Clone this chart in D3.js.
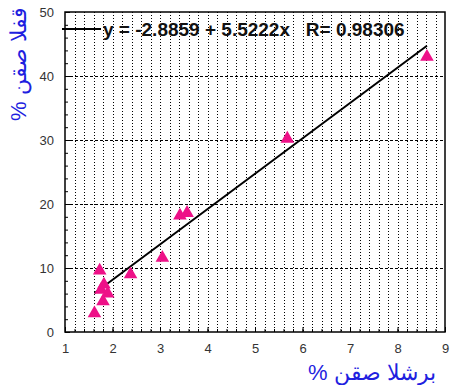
<!DOCTYPE html>
<html>
<head>
<meta charset="utf-8">
<script src="https://cdn.jsdelivr.net/npm/d3@7"></script>
<style>
  body { margin: 0; background: #fff; }
  text { font-family: "Liberation Sans", Arial, sans-serif; }
</style>
</head>
<body>
<div id="graph"></div>
<script>
// data
const xs = [1.62, 1.73, 1.76, 1.82, 1.90, 1.80, 2.38, 3.05, 3.42, 3.57, 5.68, 8.62];
const ys = [2.9, 9.6, 6.6, 7.4, 6.0, 4.8, 9.0, 11.6, 18.2, 18.6, 30.2, 43.0];
const xTicks = [1, 2, 3, 4, 5, 6, 7, 8, 9];
const yTicks = [0, 10, 20, 30, 40, 50];
const fit = { a: -2.8859, b: 5.5222, r: 0.98306 };
const xLabel = "نقص الشرب";
const yLabel = "نقص الفق";

// the original plot draws arabic letters left to right, so flip them
const flip = s => "% " + Array.from(s).reverse().join("");

const W = 450, H = 385;
const margin = { top: 12, right: 5, bottom: 53, left: 65 };

const x = d3.scaleLinear().domain([1, 9]).range([margin.left, W - margin.right]);
const y = d3.scaleLinear().domain([0, 50]).range([H - margin.bottom, margin.top]);

const svg = d3.select("#graph").append("svg")
    .attr("width", W)
    .attr("height", H);

// vertical dotted grid every 0.2
const minorX = d3.range(1.2, 9, 0.2);
svg.append("g").selectAll("line")
    .data(minorX)
    .enter().append("line")
    .attr("x1", d => Math.round(x(d)) + 0.5)
    .attr("x2", d => Math.round(x(d)) + 0.5)
    .attr("y1", y(50))
    .attr("y2", y(0))
    .attr("stroke", "#000")
    .attr("stroke-width", 1)
    .attr("stroke-dasharray", "1,2");

// horizontal dashed grid
svg.append("g").selectAll("line")
    .data(yTicks.slice(1, -1))
    .enter().append("line")
    .attr("x1", x(1))
    .attr("x2", x(9))
    .attr("y1", d => Math.round(y(d)) + 0.5)
    .attr("y2", d => Math.round(y(d)) + 0.5)
    .attr("stroke", "#000")
    .attr("stroke-width", 1)
    .attr("stroke-dasharray", "3,2");

// axes (ticks pointing inward)
const xAxis = svg.append("g")
    .attr("transform", "translate(0," + y(0) + ")")
    .call(d3.axisBottom(x).tickValues(xTicks).tickSize(-5).tickPadding(12).tickFormat(d3.format("d")));
const xMinor = svg.append("g")
    .attr("transform", "translate(0," + y(0) + ")")
    .call(d3.axisBottom(x).tickValues(minorX).tickSize(-3).tickFormat(""));
const yAxis = svg.append("g")
    .attr("transform", "translate(" + x(1) + ",0)")
    .call(d3.axisLeft(y).tickValues(yTicks).tickSize(-5).tickPadding(11));
const yMinor = svg.append("g")
    .attr("transform", "translate(" + x(1) + ",0)")
    .call(d3.axisLeft(y).tickValues(d3.range(2, 50, 2)).tickSize(-3).tickFormat(""));

[xAxis, xMinor, yAxis, yMinor].forEach(g => {
    g.select(".domain").remove();
    g.selectAll("line").attr("stroke", "#000");
    g.selectAll("text").attr("font-size", 13).attr("fill", "#333")
        .attr("font-family", "Liberation Sans, Arial, sans-serif");
});

// frame
svg.append("rect")
    .attr("x", x(1)).attr("y", y(50))
    .attr("width", x(9) - x(1)).attr("height", y(0) - y(50))
    .attr("fill", "none").attr("stroke", "#000").attr("stroke-width", 1.5);

// regression line
const xMin = d3.min(xs), xMax = d3.max(xs);
svg.append("line")
    .attr("x1", x(xMin)).attr("y1", y(fit.a + fit.b * xMin))
    .attr("x2", x(xMax)).attr("y2", y(fit.a + fit.b * xMax))
    .attr("stroke", "#000").attr("stroke-width", 2);

// points
const tri = d3.symbol().type(d3.symbolTriangle).size(80);
svg.append("g").selectAll("path")
    .data(xs.map((d, i) => [d, ys[i]]))
    .enter().append("path")
    .attr("d", tri)
    .attr("transform", d => "translate(" + x(d[0]) + "," + y(d[1]) + ")")
    .attr("fill", "#ee1188");

// legend
svg.append("line")
    .attr("x1", 62).attr("x2", 101).attr("y1", 29).attr("y2", 29)
    .attr("stroke", "#000").attr("stroke-width", 2);
svg.append("text")
    .attr("x", 103).attr("y", 36)
    .attr("font-size", 19).attr("font-weight", "bold").attr("fill", "#111")
    .attr("xml:space", "preserve")
    .text("y = " + fit.a + " + " + fit.b + "x   R= " + fit.r);

// axis titles
svg.append("text")
    .attr("x", 308).attr("y", 380)
    .attr("font-size", 22).attr("fill", "#1f1fe0")
    .text(flip(xLabel));
svg.append("text")
    .attr("transform", "translate(26,121) rotate(-90)")
    .attr("font-size", 22).attr("fill", "#1f1fe0")
    .text(flip(yLabel));
</script>
</body>
</html>
